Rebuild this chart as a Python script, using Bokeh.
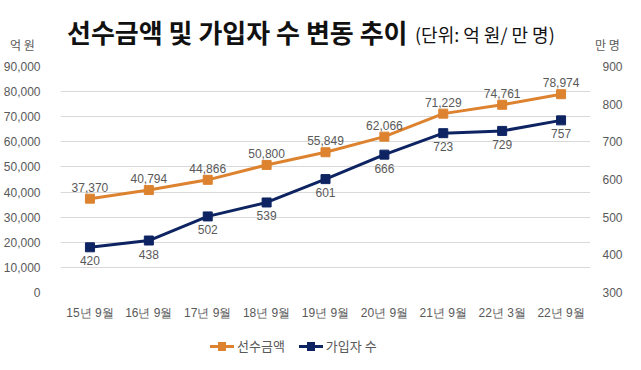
from bokeh.plotting import figure
from bokeh.layouts import column
from bokeh.models import (FactorRange, Range1d, LinearAxis, ColumnDataSource, Div,
                          NumeralTickFormatter, FixedTicker)
from bokeh.embed import file_html
from bokeh.resources import INLINE

categories = ["15년 9월", "16년 9월", "17년 9월", "18년 9월", "19년 9월",
              "20년 9월", "21년 9월", "22년 3월", "22년 9월"]
prepaid = [37370, 40794, 44866, 50800, 55849, 62066, 71229, 74761, 78974]
members = [420, 438, 502, 539, 601, 666, 723, 729, 757]
prepaid_labels = [f"{v:,}" for v in prepaid]
members_labels = [str(v) for v in members]
left_ticks = list(range(0, 90001, 10000))
right_ticks = list(range(300, 901, 100))
series_names = ["선수금액", "가입자 수"]
title_text = "선수금액 및 가입자 수 변동 추이"
unit_text = "(단위: 억 원/ 만 명)"
left_unit = "억 원"
right_unit = "만 명"

CJK = "'Noto Sans CJK KR', 'Noto Sans', sans-serif"
ORANGE = "#DD8330"
NAVY = "#0E2462"
GRAY = "#595959"
W = 625

src = ColumnDataSource(dict(x=categories, p=prepaid, m=members,
                            pl=prepaid_labels, ml=members_labels))

title_div = Div(width=W, height=51, text=f"""
<div style="position:relative;width:{W}px;height:51px;font-family:{CJK};white-space:nowrap;">
  <span style="position:absolute;left:5px;top:33px;font-size:12px;line-height:14px;color:{GRAY};">{left_unit}</span>
  <span style="position:absolute;left:62px;top:12px;font-size:26px;line-height:30px;font-weight:bold;color:#111;">{title_text}</span>
  <span style="position:absolute;left:410px;top:18px;font-size:18px;line-height:22px;color:#111;">{unit_text}</span>
  <span style="position:absolute;left:590px;top:33px;font-size:12px;line-height:14px;color:{GRAY};">{right_unit}</span>
</div>""")

p = figure(width=W, height=261, x_range=FactorRange(factors=categories),
           y_range=Range1d(0, 90000), output_backend="svg", toolbar_location=None)
p.x_range.range_padding = 0
p.extra_y_ranges = {"right": Range1d(300, 900)}
p.outline_line_color = None
p.xgrid.grid_line_color = None
p.ygrid.grid_line_color = "#D9D9D9"
p.ygrid.ticker = FixedTicker(ticks=left_ticks)

p.yaxis[0].ticker = FixedTicker(ticks=left_ticks)
p.yaxis[0].formatter = NumeralTickFormatter(format="0,0")

ra = LinearAxis(y_range_name="right", ticker=FixedTicker(ticks=right_ticks))
p.add_layout(ra, "right")

for ax in [p.xaxis[0], p.yaxis[0], ra]:
    ax.axis_line_color = None
    ax.major_tick_line_color = None
    ax.minor_tick_line_color = None
    ax.major_tick_out = 0
    ax.major_tick_in = 0
    ax.minor_tick_out = 0
    ax.major_label_text_font_size = "12px"
    ax.major_label_text_color = GRAY
p.yaxis[0].major_label_standoff = 20
ra.major_label_standoff = 12
p.xaxis[0].major_label_standoff = 13

p.line("x", "p", source=src, line_color=ORANGE, line_width=3)
p.scatter("x", "p", source=src, marker="square", size=9, color=ORANGE)
p.line("x", "m", source=src, line_color=NAVY, line_width=3, y_range_name="right")
p.scatter("x", "m", source=src, marker="square", size=9, color=NAVY, y_range_name="right")

p.text("x", "p", text="pl", source=src, y_offset=-7, text_align="center",
       text_baseline="bottom", text_font_size="12px", text_color=GRAY)
p.text("x", "m", text="ml", source=src, y_offset=9, text_align="center",
       text_baseline="top", text_font_size="12px", text_color=GRAY, y_range_name="right")


def glyph(color):
    return (f'<span style="position:relative;display:inline-block;width:24px;height:3px;'
            f'background:{color};margin-right:3px;">'
            f'<span style="position:absolute;left:8px;top:-3px;width:8px;height:9px;'
            f'background:{color};"></span></span>')


legend_div = Div(width=W, height=42, text=f"""
<div style="position:relative;width:{W}px;height:42px;font-family:{CJK};white-space:nowrap;">
  <div style="position:absolute;left:205px;top:9px;height:20px;display:flex;align-items:center;font-size:13px;color:{GRAY};">
    {glyph(ORANGE)}<span style="margin-right:14px;">{series_names[0]}</span>
    {glyph(NAVY)}<span>{series_names[1]}</span>
  </div>
</div>""")

layout = column(title_div, p, legend_div)
open("out.html", "w").write(file_html(layout, INLINE))
